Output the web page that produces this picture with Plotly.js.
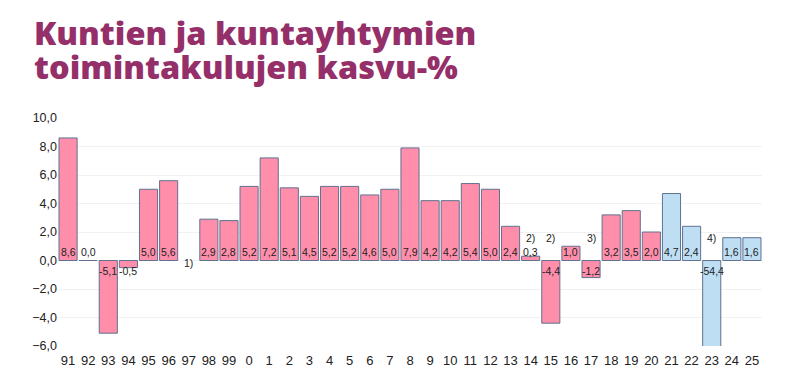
<!DOCTYPE html>
<html>
<head>
<meta charset="utf-8">
<script src="https://cdn.plot.ly/plotly-3.0.1.min.js"></script>
<style>html,body{margin:0;padding:0;background:#fff;}#chart{width:790px;height:382px;}</style>
</head>
<body>
<div id="chart"></div>
<script>
var years = ["91","92","93","94","95","96","97","98","99","0","1","2","3","4","5","6","7","8","9","10","11","12","13","14","15","16","17","18","19","20","21","22","23","24","25"];
var values = [8.6,0.0,-5.1,-0.5,5.0,5.6,null,2.9,2.8,5.2,7.2,5.1,4.5,5.2,5.2,4.6,5.0,7.9,4.2,4.2,5.4,5.0,2.4,0.3,-4.4,1.0,-1.2,3.2,3.5,2.0,4.7,2.4,-54.4,1.6,1.6];
var forecastFrom = "21";
var noteYears = ["97","14","15","17","23"];
var noteTexts = ["1)","2)","2)","3)","4)"];
var noteLevels = [-0.15,1.6,1.6,1.6,1.6];
var titleLines = ["Kuntien ja kuntayhtymien", "toimintakulujen kasvu-%"];

var pink = "#FF8EAB", blue = "#BDDEF3", edge = "#60728F";
var startIdx = years.indexOf(forecastFrom);
var colors = years.map(function(y, i){ return i >= startIdx ? blue : pink; });
var xs = years.map(function(y, i){ return i; });

function fmt(v){ return v.toFixed(1).replace(".", ","); }
var lblFont = {family: "Liberation Sans, Arial, sans-serif", size: 10.5, color: "#222"};

var annotations = [];
years.forEach(function(y, i){
  var v = values[i];
  if (v === null) return;
  annotations.push({
    x: i, y: 0, xref: "x", yref: "y", text: fmt(v), showarrow: false,
    yanchor: v >= 0 ? "bottom" : "top", yshift: v >= 0 ? 1 : -2, font: lblFont
  });
});
noteYears.forEach(function(ny, k){
  annotations.push({
    x: years.indexOf(ny), y: noteLevels[k], xref: "x", yref: "y", text: noteTexts[k], showarrow: false,
    yanchor: "middle", font: lblFont
  });
});
var plotH = 382 - 118 - 36;
function py(px){ return (382 - 36 - px) / plotH; }
var tfont = {family: "Open Sans, sans-serif", size: 32.5, color: "#952F69", weight: 800};
annotations.push({xref: "paper", yref: "paper", x: -0.036, y: py(32.5), yanchor: "middle", xanchor: "left",
  text: titleLines[0], showarrow: false, font: tfont, borderpad: 0});
annotations.push({xref: "paper", yref: "paper", x: -0.036, y: py(66), yanchor: "middle", xanchor: "left",
  text: titleLines[1], showarrow: false, font: tfont, borderpad: 0});

var trace = {
  type: "bar", x: xs, y: values,
  marker: {color: colors, line: {color: edge, width: 1}},
  hoverinfo: "none", cliponaxis: true
};

var layout = {
  width: 790, height: 382,
  margin: {l: 58, r: 28, t: 118, b: 36},
  paper_bgcolor: "#fff", plot_bgcolor: "#fff",
  bargap: 0.1, showlegend: false,
  separators: ", ",
  xaxis: {tickmode: "array", tickvals: xs, ticktext: years, range: [-0.5, years.length - 0.5],
    tickfont: {family: "Liberation Sans, Arial, sans-serif", size: 13, color: "#222"},
    ticklabelstandoff: 5,
    showgrid: false, zeroline: false, showline: false, ticks: "", tickangle: 0},
  yaxis: {range: [-6, 10], dtick: 2, tick0: 0, tickformat: ".1f",
    tickfont: {family: "Liberation Sans, Arial, sans-serif", size: 12.5, color: "#222"},
    showgrid: true, gridcolor: "#f1f1f1", gridwidth: 1, zeroline: false, showline: false, ticks: ""},
  annotations: annotations
};

Plotly.newPlot("chart", [trace], layout, {displayModeBar: false, staticPlot: true});
</script>
</body>
</html>
